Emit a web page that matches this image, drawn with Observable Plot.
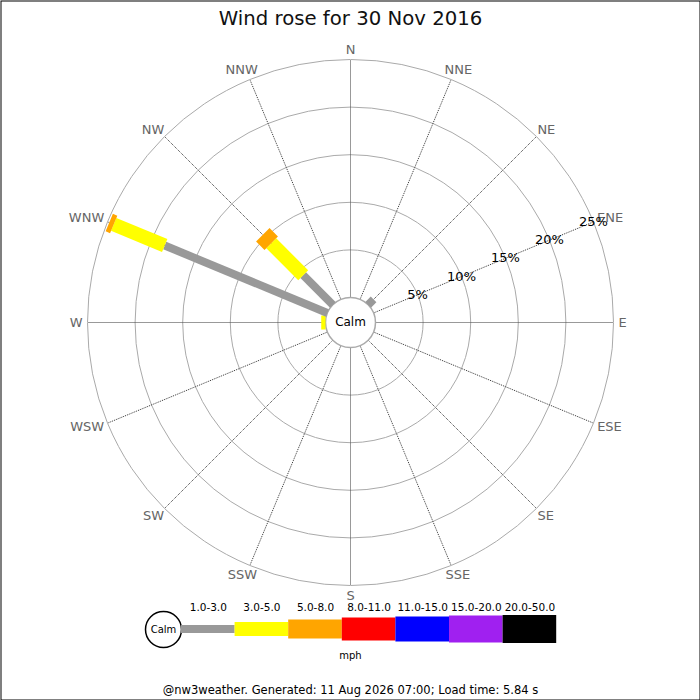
<!DOCTYPE html>
<html>
<head>
<meta charset="utf-8">
<script src="https://cdn.jsdelivr.net/npm/d3@7"></script>
<script src="https://cdn.jsdelivr.net/npm/@observablehq/plot@0.6"></script>
<style>
  body { margin: 0; background: white; }
</style>
</head>
<body>
<div id="chart"></div>
<script>
// directions, clockwise from N
const dirs = ['N','NNE','NE','ENE','E','ESE','SE','SSE','S','SSW','SW','WSW','W','WNW','NW','NNW'];

// speed bins (mph) and their colours
const bins = ['1.0-3.0','3.0-5.0','5.0-8.0','8.0-11.0','11.0-15.0','15.0-20.0','20.0-50.0'];
const binColors = ['#999999','#ffff00','#ffa500','#ff0000','#0000ff','#a020f0','#000000'];

// percent of time per direction, one array per speed bin
const pct_1_3   = [0,0,0.8,0,0,0,0,0,0,0,0,0,0,   18.5,4.4,0];
const pct_3_5   = [0,0,0,  0,0,0,0,0,0,0,0,0,0.45,5.8, 4.75,0];
const pct_5_8   = [0,0,0,  0,0,0,0,0,0,0,0,0,0,   0.5, 1.25,0];
const pct_8_11  = [0,0,0,0,0,0,0,0,0,0,0,0,0,0,0,0];
const pct_11_15 = [0,0,0,0,0,0,0,0,0,0,0,0,0,0,0,0];
const pct_15_20 = [0,0,0,0,0,0,0,0,0,0,0,0,0,0,0,0];
const pct_20_50 = [0,0,0,0,0,0,0,0,0,0,0,0,0,0,0,0];
const series = [pct_1_3, pct_3_5, pct_5_8, pct_8_11, pct_11_15, pct_15_20, pct_20_50];

const rings = [5, 10, 15, 20, 25];

// layout
const cx = 350, cy = 322, calmR = 25;
const barWidths = [8, 14, 19, 23, 25, 27, 28];
const rad = d3.scaleLinear().domain([0, 25]).range([calmR, 263]);
const angle = i => i * Math.PI / 8;
const px = (i, r) => cx + r * Math.sin(angle(i));
const py = (i, r) => cy - r * Math.cos(angle(i));

// text width, to push direction labels off the outer ring
const ctx = document.createElement('canvas').getContext('2d');
ctx.font = '13px "DejaVu Sans"';
const tw = s => ctx.measureText(s).width;
const labR = rad(25) + 5;

// stacked segments
const segs = [];
dirs.forEach((d, i) => {
  let acc = 0;
  series.forEach((s, b) => {
    const v = s[i];
    if (v > 0) segs.push({dir: i, bin: b, r0: rad(acc), r1: rad(acc + v)});
    acc += v;
  });
});

// legend geometry
const legX0 = 181, legStep = 53.6, legY = 629;
const legend = bins.map((b, i) => ({bin: i, label: b, x1: legX0 + i * legStep, x2: legX0 + (i + 1) * legStep}));

const chart = Plot.plot({
  width: 700,
  height: 700,
  margin: 0,
  x: {domain: [0, 700], range: [0, 700], axis: null},
  y: {domain: [0, 700], range: [0, 700], axis: null},
  r: {type: 'identity'},
  style: {fontFamily: 'DejaVu Sans, sans-serif', background: 'white'},
  marks: [
    Plot.frame({stroke: 'black', inset: 0.5}),
    // rings
    Plot.dot(rings, {x: () => cx, y: () => cy, r: d => rad(d), stroke: '#aaaaaa', fill: 'none', strokeWidth: 1}),
    // spokes
    Plot.link(dirs, {
      x1: (d, i) => px(i, calmR), y1: (d, i) => py(i, calmR),
      x2: (d, i) => px(i, rad(25)), y2: (d, i) => py(i, rad(25)),
      stroke: '#333', strokeWidth: 1, strokeDasharray: '1,1'
    }),
    // calm circle
    Plot.dot([0], {x: () => cx, y: () => cy, r: () => calmR, stroke: '#aaaaaa', fill: 'white'}),
    Plot.text(['Calm'], {x: () => cx, y: () => cy, text: d => d, fontSize: 12, fill: 'black'}),
    // bars
    Plot.link(segs, {
      x1: d => px(d.dir, d.r0), y1: d => py(d.dir, d.r0),
      x2: d => px(d.dir, d.r1), y2: d => py(d.dir, d.r1),
      stroke: d => binColors[d.bin], strokeWidth: d => barWidths[d.bin], strokeLinecap: 'butt'
    }),
    // direction labels
    Plot.text(dirs, {
      x: (d, i) => px(i, labR) + tw(d) / 2 * Math.sin(angle(i)),
      y: (d, i) => py(i, labR) - 5 * Math.cos(angle(i)),
      text: d => d, fontSize: 13, fill: '#666666'
    }),
    // percent labels on ENE spoke
    Plot.text(rings, {
      x: d => px(3, rad(d)), y: d => py(3, rad(d)), text: d => d + '%',
      fontSize: 13, fill: 'black'
    }),
    // title
    Plot.text(['Wind rose for 30 Nov 2016'], {x: () => 350, y: () => 18, text: d => d, fontSize: 19.7, fill: '#111'}),
    // legend
    Plot.dot([0], {x: () => 163, y: () => legY, r: () => 18, stroke: 'black', fill: 'white'}),
    Plot.text(['Calm'], {x: () => 163, y: () => legY, text: d => d, fontSize: 10, fill: 'black'}),
    Plot.rect(legend, {
      x1: 'x1', x2: 'x2',
      y1: d => legY - barWidths[d.bin] / 2, y2: d => legY + barWidths[d.bin] / 2,
      fill: d => binColors[d.bin]
    }),
    Plot.text(legend, {x: d => (d.x1 + d.x2) / 2, y: () => 607, text: 'label', fontSize: 10.5, fill: 'black'}),
    Plot.text(['mph'], {x: () => 350, y: () => 655, text: d => d, fontSize: 10, fill: 'black'}),
    // footer
    Plot.text(['@nw3weather. Generated: 11 Aug 2026 07:00; Load time: 5.84 s'], {x: () => 350, y: () => 690, text: d => d, fontSize: 11.5, fill: 'black'})
  ]
});
document.getElementById('chart').append(chart);
</script>
</body>
</html>
